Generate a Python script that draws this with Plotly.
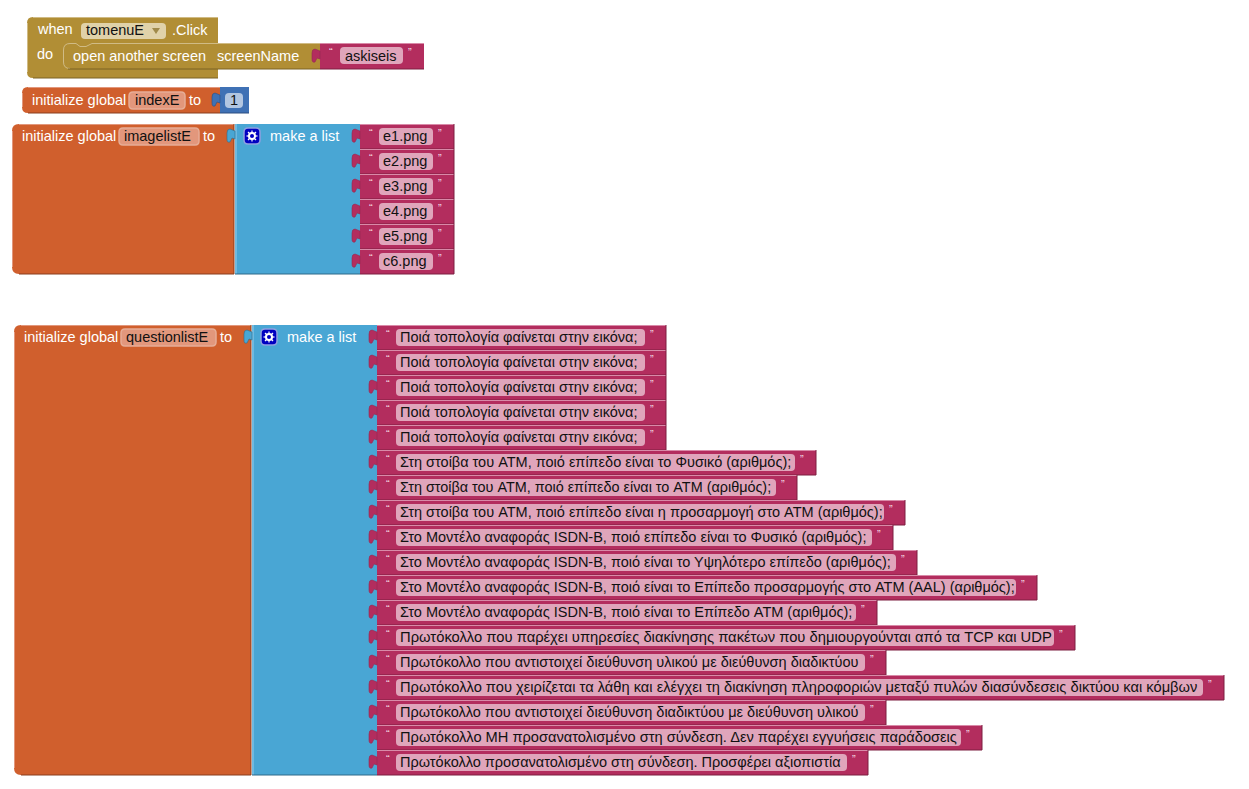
import plotly.graph_objects as go

# block contents
event_component = "tomenuE"
screen_name = "askiseis"
index_name = "indexE"
index_value = "1"
image_list_name = "imagelistE"
question_list_name = "questionlistE"

images = ["e1.png", "e2.png", "e3.png", "e4.png", "e5.png", "c6.png"]

questions = [
    "Ποιά τοπολογία φαίνεται στην εικόνα;",
    "Ποιά τοπολογία φαίνεται στην εικόνα;",
    "Ποιά τοπολογία φαίνεται στην εικόνα;",
    "Ποιά τοπολογία φαίνεται στην εικόνα;",
    "Ποιά τοπολογία φαίνεται στην εικόνα;",
    "Στη στοίβα του ATM, ποιό επίπεδο είναι το Φυσικό (αριθμός);",
    "Στη στοίβα του ATM, ποιό επίπεδο είναι το ATM (αριθμός);",
    "Στη στοίβα του ATM, ποιό επίπεδο είναι η προσαρμογή στο ATM (αριθμός);",
    "Στο Μοντέλο αναφοράς ISDN-B, ποιό επίπεδο είναι το Φυσικό (αριθμός);",
    "Στο Μοντέλο αναφοράς ISDN-B, ποιό είναι το Υψηλότερο επίπεδο (αριθμός);",
    "Στο Μοντέλο αναφοράς ISDN-B, ποιό είναι το Επίπεδο προσαρμογής στο ATM (AAL) (αριθμός);",
    "Στο Μοντέλο αναφοράς ISDN-B, ποιό είναι το Επίπεδο ATM (αριθμός);",
    "Πρωτόκολλο που παρέχει υπηρεσίες διακίνησης πακέτων που δημιουργούνται από τα TCP και UDP",
    "Πρωτόκολλο που αντιστοιχεί διεύθυνση υλικού με διεύθυνση διαδικτύου",
    "Πρωτόκολλο που χειρίζεται τα λάθη και ελέγχει τη διακίνηση πληροφοριών μεταξύ πυλών διασύνδεσεις δικτύου και κόμβων",
    "Πρωτόκολλο που αντιστοιχεί διεύθυνση διαδικτύου με διεύθυνση υλικού",
    "Πρωτόκολλο ΜΗ προσανατολισμένο στη σύνδεση. Δεν παρέχει εγγυήσεις παράδοσεις",
    "Πρωτόκολλο προσανατολισμένο στη σύνδεση. Προσφέρει αξιοπιστία",
]
question_ends = [666, 666, 666, 666, 666, 816, 797, 905, 893, 917, 1037, 877, 1075, 886, 1224, 886, 982, 868]
image_ends = [454, 454, 454, 454, 454, 454]

ORANGE = "#d05f2d"
ORANGE_LIGHT = "#e2977c"
ORANGE_DARK = "#8a3f1e"
BLUE = "#49a6d4"
BLUE_LIGHT = "#7cc0e4"
BLUE_DARK = "#2f6b8a"
PINK = "#b32d5e"
PINK_LIGHT = "#d98aa8"
PINK_DARK = "#7c1f41"
PILL_PINK = "#e0a5bb"
GOLD = "#b18e35"
GOLD_LIGHT = "#d0bb85"
GOLD_DARK = "#7b6325"
PILL_GOLD = "#e0d2a9"
NUM_BLUE = "#3f71b5"
PILL_BLUE = "#b2c6e1"
FONT = "Liberation Sans"
ROW = 25
# the hinted original runs a little wider on some rows than Liberation does
ROW_FONT_SIZE = {6: 14.4, 12: 14.75, 14: 14.68, 16: 14.63}

shapes = []
notes = []


def path(d, fill, line=None, width=1):
    shapes.append(dict(type="path", path=d, fillcolor=fill, layer="above",
                       line=dict(color=line or fill, width=width if line else 0)))


def rect(x0, y0, x1, y1, fill):
    path(f"M{x0},{y0} L{x1},{y0} L{x1},{y1} L{x0},{y1} Z", fill)


def seg(x0, y0, x1, y1, color, width=1):
    shapes.append(dict(type="line", x0=x0, y0=y0, x1=x1, y1=y1, layer="above",
                       line=dict(color=color, width=width)))


def pill(x0, y0, x1, y1, fill, edge=None):
    r = 4
    path(f"M{x0 + r},{y0} L{x1 - r},{y0} Q{x1},{y0} {x1},{y0 + r} L{x1},{y1 - r} Q{x1},{y1} {x1 - r},{y1} "
         f"L{x0 + r},{y1} Q{x0},{y1} {x0},{y1 - r} L{x0},{y0 + r} Q{x0},{y0} {x0 + r},{y0} Z", fill, edge, 1.5)


def label(x, y, text, color="white", size=14.5, anchor="left"):
    # annotation boxes carry about 2px of padding on the left, 1px on top
    notes.append(dict(x=x - 2 if anchor == "left" else x, y=y - 1, text=text, showarrow=False,
                      xanchor=anchor, yanchor="middle",
                      font=dict(family=FONT, size=size, color=color)))


def tab(left, y, fill, edge):
    path(f"M{left},{y + 7} L{left - 5},{y + 5} Q{left - 8},{y + 5} {left - 8},{y + 9} L{left - 8},{y + 15} "
         f"Q{left - 8},{y + 19} {left - 5},{y + 18} L{left - 3},{y + 14} L{left},{y + 15} Z", fill, edge, 0.6)


def quotes(left, right, y):
    label(left, y, "“", color="#f6dce6", size=11, anchor="center")
    label(right, y, "”", color="#f6dce6", size=11, anchor="center")


def text_row(left, y, right, text, size=14.5):
    # one text block: magenta body, pill and the two small quote marks
    rect(left, y, right, y + ROW, PINK)
    seg(left, y + 0.5, right, y + 0.5, PINK_LIGHT)
    seg(left, y + ROW, right, y + ROW, PINK_DARK)
    seg(right, y, right, y + ROW, PINK_DARK)
    tab(left, y, PINK, "#962a52")
    pill(left + 19, y + 4, right - 21, y + 21, PILL_PINK)
    quotes(left + 11, right - 14, y + 10)
    label(left + 23, y + 13, text, color="#111111", size=size)


def gear(x, y):
    pill(x, y, x + 16, y + 16, "#0000c0", "#8fa0e0")
    cx, cy = x + 8, y + 8
    for dx, dy in [(5.5, 0), (0, 5.5), (4, 4), (4, -4)]:
        seg(cx - dx, cy - dy, cx + dx, cy + dy, "white", 1.2)
    shapes.append(dict(type="circle", x0=cx - 4, y0=cy - 4, x1=cx + 4, y1=cy + 4, layer="above",
                       fillcolor="white", line=dict(width=0)))
    shapes.append(dict(type="circle", x0=cx - 2, y0=cy - 2, x1=cx + 2, y1=cy + 2, layer="above",
                       fillcolor="#0000c0", line=dict(width=0)))


def list_block(left, mid, right, top, count, name, pill_x0, pill_x1, to_x, ends, rows):
    bottom = top + count * ROW
    # orange part with rounded left corners
    path(f"M{left + 7},{top} L{mid},{top} L{mid},{bottom} L{left + 7},{bottom} Q{left},{bottom} {left},{bottom - 7} "
         f"L{left},{top + 7} Q{left},{top} {left + 7},{top} Z", ORANGE)
    seg(left + 7, top + 0.5, mid, top + 0.5, ORANGE_LIGHT)
    seg(left + 0.5, top + 7, left + 0.5, bottom - 7, ORANGE_LIGHT)
    seg(left + 7, bottom, mid, bottom, ORANGE_DARK)
    seg(mid, top, mid, bottom, ORANGE_DARK)
    # blue "make a list" part
    rect(mid + 1, top, right, bottom, BLUE)
    seg(mid + 2, top, mid + 2, bottom, BLUE_LIGHT, 1.5)
    seg(mid + 1, bottom, right, bottom, BLUE_DARK)
    tab(mid + 1, top, BLUE, BLUE_DARK)
    label(left + 10, top + 12.5, "initialize global")
    pill(pill_x0, top + 4, pill_x1, top + 21, ORANGE_LIGHT, "#e6ad96")
    label(pill_x0 + 5, top + 12.5, name, color="#111111")
    label(to_x, top + 12.5, "to")
    gear(mid + 10, top + 4)
    label(mid + 36, top + 12.5, "make a list")
    for i, (end, text) in enumerate(zip(ends, rows)):
        size = ROW_FONT_SIZE.get(i, 14.5) if len(rows) > 6 else 14.5
        text_row(right, top + i * ROW, end, text, size)


# when ... do block
path("M33,17 L218,17 L218,69 L218,78 L33,78 Q27,78 27,72 L27,23 Q27,17 33,17 Z", GOLD)
seg(33, 17.5, 218, 17.5, GOLD_LIGHT)
seg(27.5, 23, 27.5, 72, GOLD_LIGHT)
seg(33, 78, 218, 78, GOLD_DARK)
rect(63, 43, 320, 69, GOLD)
# statement slot: rounded light edge with the little notch on top
shapes.append(dict(type="path", layer="above", fillcolor="rgba(0,0,0,0)", line=dict(color=GOLD_LIGHT, width=1),
                   path="M320,43.5 L92,43.5 L86,46.5 L80,46.5 L76,43.5 L70,43.5 Q63.5,43.5 63.5,50 L63.5,62 Q63.5,68.5 70,68.5"))
seg(68, 69, 320, 69, GOLD_DARK)
label(37, 30, "when")
pill(81, 23, 166, 39, PILL_GOLD)
label(86, 30.5, event_component, color="#111111")
path("M152,28 L160,28 L156,34 Z", "#a08a4a")
label(172, 30.5, ".Click")
label(37, 55, "do")
label(73, 56.5, "open another screen")
label(217, 56.5, "screenName")
rect(320, 43, 424, 69, PINK)
seg(320, 43.5, 424, 43.5, PINK_LIGHT)
seg(320, 69, 424, 69, PINK_DARK)
tab(320, 44, PINK, "#962a52")
pill(340, 47, 403, 64, PILL_PINK)
quotes(331, 410, 53)
label(345, 56.5, screen_name, color="#111111")

# index variable
path("M28,87 L220,87 L220,113 L28,113 Q22,113 22,107 L22,93 Q22,87 28,87 Z", ORANGE)
seg(28, 87.5, 220, 87.5, ORANGE_LIGHT)
seg(22.5, 93, 22.5, 107, ORANGE_LIGHT)
seg(28, 113, 220, 113, ORANGE_DARK)
label(32, 100.5, "initialize global")
pill(129, 92, 185, 109, ORANGE_LIGHT, "#e6ad96")
label(135, 100.5, index_name, color="#111111")
label(189, 100.5, "to")
rect(220, 87, 249, 113, NUM_BLUE)
seg(220, 113, 249, 113, "#2c4f80")
tab(220, 88, NUM_BLUE, "#2c4f80")
pill(225, 93, 243, 108, PILL_BLUE)
label(234, 100.5, index_value, color="#111111", anchor="center")

# the two list definitions
list_block(12, 234, 360, 124, len(images), image_list_name, 119, 199, 203, image_ends, images)
list_block(14, 251, 377, 325, len(questions), question_list_name, 121, 216, 220, question_ends, questions)

fig = go.Figure()
fig.update_layout(
    width=1249,
    height=789,
    margin=dict(l=0, r=0, t=0, b=0),
    paper_bgcolor="white",
    plot_bgcolor="white",
    showlegend=False,
    xaxis=dict(range=[0, 1249], visible=False, fixedrange=True),
    yaxis=dict(range=[789, 0], visible=False, fixedrange=True),
    shapes=shapes,
    annotations=notes,
)

fig.write_html("out.html", config=dict(displayModeBar=False),
               post_script="document.body.style.margin='0';")
